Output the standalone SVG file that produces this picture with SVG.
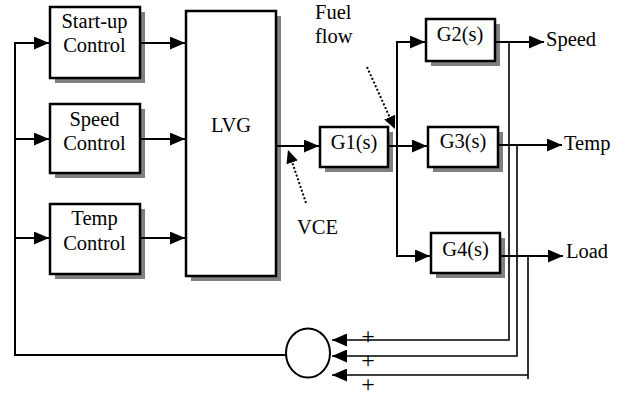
<svg xmlns="http://www.w3.org/2000/svg" width="625" height="396" viewBox="0 0 625 396">
<style>
.box{fill:#fff;stroke:#000;stroke-width:2.5}
.sh{fill:#808080;stroke:none}
.t{font-family:"Liberation Serif","Times New Roman",serif;font-size:20.5px;fill:#000}
.c{text-anchor:middle}
.p{font-size:24px}
.ln{fill:none;stroke:#000;stroke-width:2}
.thin{fill:none;stroke:#000;stroke-width:1.6}
.dot{fill:none;stroke:#000;stroke-width:2;stroke-dasharray:2 2}
</style>
<defs>
<marker id="ah" markerUnits="userSpaceOnUse" markerWidth="15" markerHeight="13" refX="15" refY="6.5" orient="auto">
<path d="M0,0 L15,6.5 L0,13 z" fill="#000"/>
</marker>
<marker id="ahd" markerUnits="userSpaceOnUse" markerWidth="13" markerHeight="12" refX="13" refY="6" orient="auto">
<path d="M0,0 L13,6 L0,12 z" fill="#000"/>
</marker>
</defs>

<g id="startup">
<rect class="sh" x="55" y="12" width="90" height="71"/>
<rect class="box" x="50" y="7" width="90" height="71"/>
<text class="t c" x="94.5" y="28">Start-up</text>
<text class="t c" x="94.5" y="52">Control</text>
</g>
<g id="speedctl">
<rect class="sh" x="55" y="109" width="90" height="69"/>
<rect class="box" x="50" y="104" width="90" height="69"/>
<text class="t c" x="94.5" y="126">Speed</text>
<text class="t c" x="94.5" y="150">Control</text>
</g>
<g id="tempctl">
<rect class="sh" x="55" y="209" width="90" height="70"/>
<rect class="box" x="50" y="204" width="90" height="70"/>
<text class="t c" x="94.5" y="225">Temp</text>
<text class="t c" x="94.5" y="250">Control</text>
</g>
<g id="lvg">
<rect class="sh" x="191" y="16" width="90" height="265"/>
<rect class="box" x="186" y="11" width="90" height="265"/>
<text class="t c" x="231" y="132">LVG</text>
</g>
<g id="g1">
<rect class="sh" x="325" y="132" width="68" height="40"/>
<rect class="box" x="320" y="127" width="68" height="40"/>
<text class="t c" x="354" y="149">G1(s)</text>
</g>
<g id="g2">
<rect class="sh" x="431" y="24" width="69" height="42"/>
<rect class="box" x="426" y="19" width="69" height="42"/>
<text class="t c" x="460" y="41">G2(s)</text>
</g>
<g id="g3">
<rect class="sh" x="433" y="132" width="70" height="40"/>
<rect class="box" x="428" y="127" width="70" height="40"/>
<text class="t c" x="463" y="148">G3(s)</text>
</g>
<g id="g4">
<rect class="sh" x="436" y="238" width="69" height="40"/>
<rect class="box" x="431" y="233" width="69" height="40"/>
<text class="t c" x="465.5" y="256">G4(s)</text>
</g>
<g id="sum">
<ellipse cx="308" cy="353" rx="22" ry="24.5" fill="#fff" stroke="#000" stroke-width="2"/>
</g>

<g id="connectors">
<path class="ln" d="M286,355 H15 V43 H49" marker-end="url(#ah)"/>
<path class="ln" d="M15,139 H49" marker-end="url(#ah)"/>
<path class="ln" d="M15,238 H49" marker-end="url(#ah)"/>
<path class="ln" d="M141,43 H185" marker-end="url(#ah)"/>
<path class="ln" d="M141,139 H185" marker-end="url(#ah)"/>
<path class="ln" d="M141,238 H185" marker-end="url(#ah)"/>
<path class="ln" d="M277,146 H319" marker-end="url(#ah)"/>
<path class="ln" d="M389,146 H427" marker-end="url(#ah)"/>
<path class="ln" d="M397,146 V42 H425" marker-end="url(#ah)"/>
<path class="ln" d="M397,146 V256 H430" marker-end="url(#ah)"/>
<path class="ln" d="M496,42 H544" marker-end="url(#ah)"/>
<path class="ln" d="M499,145 H562" marker-end="url(#ah)"/>
<path class="ln" d="M501,256 H563" marker-end="url(#ah)"/>
<path class="thin" d="M509,42 V340 H332" marker-end="url(#ah)"/>
<path class="thin" d="M517,145 V356 H332" marker-end="url(#ah)"/>
<path class="thin" d="M528,256 V379 M528,375 H332" marker-end="url(#ah)"/>
<path class="dot" d="M367,67 L395,129" marker-end="url(#ahd)"/>
<path class="dot" d="M306,203 L288,150" marker-end="url(#ahd)"/>
</g>

<text class="t" x="546" y="46">Speed</text>
<text class="t" x="564" y="150">Temp</text>
<text class="t" x="566" y="258">Load</text>
<text class="t" x="315" y="19">Fuel</text>
<text class="t" x="315" y="43">flow</text>
<text class="t" x="297" y="234">VCE</text>
<text class="t c p" x="368" y="344">+</text>
<text class="t c p" x="368" y="368">+</text>
<text class="t c p" x="368" y="392">+</text>
</svg>
